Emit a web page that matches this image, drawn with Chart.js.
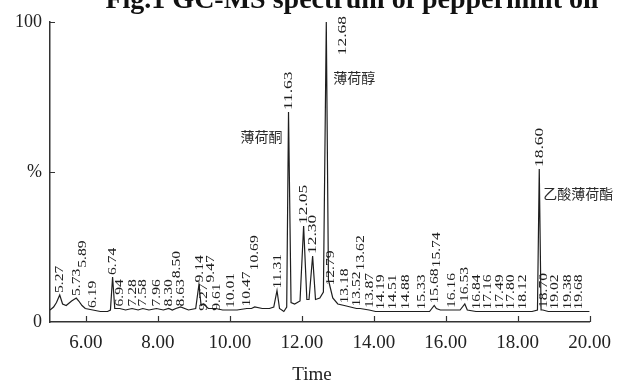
<!DOCTYPE html>
<html>
<head>
<meta charset="utf-8">
<script src="https://cdn.jsdelivr.net/npm/chart.js@4.4.1/dist/chart.umd.min.js"></script>
<style>
  html, body { margin: 0; padding: 0; background: #ffffff; }
  #wrap { width: 621px; height: 383px; overflow: hidden; }
</style>
</head>
<body>
<div id="wrap"><canvas id="c" width="621" height="383"></canvas></div>
<script>
// Total ion chromatogram of peppermint oil: retention time (min) vs relative abundance (%)
const traceTime = [
  5.00, 5.10, 5.18, 5.27, 5.35, 5.45, 5.60, 5.73, 5.80, 5.89, 5.98, 6.19, 6.40, 6.60, 6.68, 6.74, 6.80,
  6.94, 7.10, 7.28, 7.45, 7.58, 7.75, 7.96, 8.15, 8.30, 8.40, 8.50, 8.63, 8.85, 9.05, 9.14, 9.20,
  9.27, 9.40, 9.47, 9.61, 9.80, 10.01, 10.20, 10.47, 10.60, 10.69, 10.90, 11.10, 11.22, 11.31, 11.38,
  11.50, 11.58, 11.63, 11.70, 11.80, 11.95, 12.05, 12.14, 12.20, 12.30, 12.38, 12.50, 12.60, 12.68,
  12.74, 12.79, 12.86, 13.00, 13.18, 13.35, 13.52, 13.62, 13.87, 14.05, 14.19, 14.35, 14.51, 14.70,
  14.88, 15.10, 15.33, 15.55, 15.68, 15.74, 15.85, 15.96, 16.16, 16.40, 16.53, 16.60, 16.84, 17.00,
  17.16, 17.30, 17.49, 17.65, 17.80, 18.00, 18.12, 18.40, 18.55, 18.60, 18.65, 18.70, 18.85, 19.02,
  19.20, 19.38, 19.55, 19.68, 19.85, 20.00
];
const traceIntensity = [
  4, 5, 6.5, 9, 6, 5.5, 7, 8, 7, 5.5, 4.5, 4, 3.5, 3.5, 4, 15, 4.5,
  4.5, 4, 4.5, 4, 4.5, 4, 4.5, 4, 4.5, 4, 4.5, 5, 4, 4.5, 12.5, 5.5,
  6, 4.5, 4.5, 4.5, 4, 4, 4, 4.5, 4.5, 5, 4.5, 4.5, 5, 10.5, 4.5,
  3.5, 5, 70, 6.5, 6, 7, 32, 7.5, 7.5, 22, 7.5, 8, 10, 100,
  14, 11.5, 8, 6, 5.5, 5, 4.5, 4.5, 4, 3.5, 3.5, 3.5, 3.5, 3.5,
  3.5, 3.5, 3.5, 3.5, 5.5, 4.5, 4, 4, 4, 4, 6, 4, 3.5, 3.5,
  3.5, 3.5, 3.5, 3.5, 3.5, 3.5, 3.5, 3.5, 4, 51, 4, 4, 3.5, 3.5,
  3.5, 3.5, 3.5, 3.5, 3.5, 3.5
];
// Retention times printed above the peaks
const peakTimes = [
  5.27, 5.73, 5.89, 6.19, 6.74, 6.94, 7.28, 7.58, 7.96, 8.30, 8.50, 8.63, 9.14, 9.27, 9.47, 9.61,
  10.01, 10.47, 10.69, 11.31, 11.63, 12.05, 12.30, 12.68, 12.79, 13.18, 13.52, 13.62, 13.87, 14.19,
  14.51, 14.88, 15.33, 15.68, 15.74, 16.16, 16.53, 16.84, 17.16, 17.49, 17.80, 18.12, 18.60, 18.70,
  19.02, 19.38, 19.68
];
// Identified compounds
const compoundTimes = [11.63, 12.68, 18.60];
const compoundNames = ['薄荷酮', '薄荷醇', '乙酸薄荷酯'];
// Axis ticks
const xTickValues = [6, 8, 10, 12, 14, 16, 18, 20];
const yTickValues = [0, 50, 100];
const yTickLabels = ['0', '%', '100'];

const titleText = 'Fig.1 GC-MS spectrum of peppermint oil';
const xAxisTitle = 'Time';
const serif = '"Liberation Serif", "DejaVu Serif", serif';
const ink = '#1e1e1e';

function valueAt(t) {
  const i = traceTime.indexOf(t);
  return i >= 0 ? traceIntensity[i] : 0;
}

// Plot decorations: clipped heading, axis title, inward tick marks, peak labels, compound names
const decorations = {
  id: 'decorations',
  afterDraw(chart) {
    const { ctx, chartArea: a, scales: { x, y } } = chart;
    ctx.save();

    // heading, partly above the canvas edge
    ctx.fillStyle = '#111';
    ctx.font = 'bold 28px ' + serif;
    ctx.textAlign = 'center';
    ctx.textBaseline = 'alphabetic';
    ctx.fillText(titleText, 352, 8);

    // x axis title
    ctx.fillStyle = '#222';
    ctx.font = '19px ' + serif;
    ctx.textBaseline = 'middle';
    ctx.fillText(xAxisTitle, 312, 375);

    // inward ticks
    ctx.strokeStyle = '#333';
    ctx.lineWidth = 1.2;
    ctx.beginPath();
    xTickValues.forEach(v => {
      const px = Math.round(x.getPixelForValue(v)) + 0.5;
      ctx.moveTo(px, a.bottom);
      ctx.lineTo(px, a.bottom - 6);
    });
    yTickValues.forEach(v => {
      if (v === 0) return;
      const py = Math.round(y.getPixelForValue(v)) + 0.5;
      ctx.moveTo(a.left, py);
      ctx.lineTo(a.left + 5, py);
    });
    ctx.stroke();

    // rotated retention-time labels; major peaks get longer text,
    // crowded minor labels drop below or climb above their neighbours
    ctx.fillStyle = ink;
    ctx.font = '12px ' + serif;
    ctx.textAlign = 'left';
    ctx.textBaseline = 'middle';
    const thick = 8.5;
    const floor = y.getPixelForValue(0) - 1;
    const placed = [];
    peakTimes.forEach(t => {
      const txt = t.toFixed(2);
      const v = valueAt(t);
      const stretch = v >= 20 ? 1.45 : 1.3;
      const len = ctx.measureText(txt).width * stretch;
      let px = x.getPixelForValue(t);
      let bottom;
      if (v >= 95) {
        px += 16;
        bottom = y.getPixelForValue(100) - 6 + len;
      } else {
        bottom = y.getPixelForValue(v) - 2;
      }
      let goingUp = false;
      for (let guard = 0; guard < 30; guard++) {
        const hit = placed.find(p => Math.abs(p.x - px) < thick && bottom > p.top && bottom - len < p.bottom);
        if (!hit) break;
        if (!goingUp && hit.bottom + 1 + len <= floor) {
          bottom = hit.bottom + 1 + len;
        } else {
          goingUp = true;
          bottom = hit.top - 1;
        }
      }
      placed.push({ x: px, top: bottom - len, bottom });
      ctx.save();
      ctx.translate(px, bottom);
      ctx.rotate(-Math.PI / 2);
      ctx.scale(stretch, 1);
      ctx.fillText(txt, 0, 0.5);
      ctx.restore();
    });

    // compound names beside their peaks
    ctx.font = '14px "Noto Sans CJK SC", sans-serif';
    ctx.fillStyle = '#2a2a2a';
    ctx.textBaseline = 'middle';
    compoundTimes.forEach((t, i) => {
      const px = x.getPixelForValue(t);
      const py = y.getPixelForValue(valueAt(t));
      if (i === 0) {
        ctx.textAlign = 'right';
        ctx.fillText(compoundNames[i], px - 6, py + 25);
      } else if (i === 1) {
        ctx.textAlign = 'left';
        ctx.fillText(compoundNames[i], px + 7, py + 56);
      } else {
        ctx.textAlign = 'left';
        ctx.fillText(compoundNames[i], px + 4, py + 25);
      }
    });
    ctx.restore();
  }
};

new Chart(document.getElementById('c'), {
  type: 'line',
  data: {
    datasets: [{
      data: traceTime.map((t, i) => ({ x: t, y: traceIntensity[i] })),
      borderColor: ink,
      borderWidth: 1.2,
      pointRadius: 0,
      tension: 0,
      fill: false
    }]
  },
  options: {
    responsive: false,
    animation: false,
    devicePixelRatio: 1,
    layout: { padding: { top: 22, right: 24, left: 0, bottom: 0 } },
    plugins: { legend: { display: false }, tooltip: { enabled: false } },
    scales: {
      x: {
        type: 'linear',
        min: 5.0,
        max: 20,
        afterBuildTicks: s => { s.ticks = xTickValues.map(v => ({ value: v })); },
        afterFit: s => { s.height = 61; },
        ticks: {
          color: '#222',
          font: { family: serif, size: 19 },
          padding: 10,
          maxRotation: 0,
          autoSkip: false,
          callback: v => Number(v).toFixed(2)
        },
        grid: { display: false, drawTicks: false },
        border: { display: true, color: '#333', width: 1.5 }
      },
      y: {
        min: 0,
        max: 100,
        afterBuildTicks: s => { s.ticks = yTickValues.map(v => ({ value: v })); },
        afterFit: s => { s.width = 50; },
        ticks: {
          color: '#222',
          font: { family: serif, size: 18 },
          padding: 8,
          callback: v => yTickLabels[yTickValues.indexOf(v)]
        },
        grid: { display: false, drawTicks: false },
        border: { display: true, color: '#333', width: 1.5 }
      }
    }
  },
  plugins: [decorations]
});
</script>
</body>
</html>
